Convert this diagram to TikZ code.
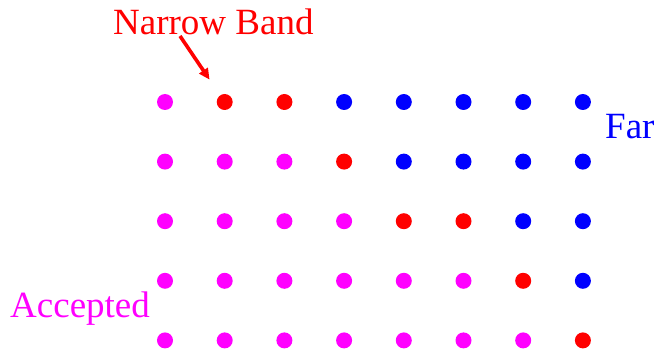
\documentclass[tikz,border=0pt]{standalone}
\usepackage{fontspec}
\setmainfont{Liberation Serif}
\usetikzlibrary{arrows.meta}
\definecolor{mag}{RGB}{255,0,255}
\definecolor{rd}{RGB}{255,0,0}
\definecolor{bl}{RGB}{0,0,255}
\tikzset{
  dotM/.style={circle,fill=mag,inner sep=0pt,minimum size=16pt},
  dotR/.style={circle,fill=rd,inner sep=0pt,minimum size=16pt},
  dotB/.style={circle,fill=bl,inner sep=0pt,minimum size=16pt},
  lbl/.style={inner sep=0pt,anchor=base west,font=\fontsize{37}{40}\selectfont}
}
\begin{document}
\begin{tikzpicture}[x=1pt,y=-1pt]
\useasboundingbox (0,0) rectangle (657,350);
\foreach \row [count=\j] in {{M,R,R,B,B,B,B,B},{M,M,M,R,B,B,B,B},{M,M,M,M,R,R,B,B},{M,M,M,M,M,M,R,B},{M,M,M,M,M,M,M,R}}{
  \foreach \c [count=\i] in \row {
    \node[dot\c] (d\i-\j) at ({165+(\i-1)*59.7},{102+(\j-1)*59.6}) {};
  }
}
\node[lbl,text=rd] (nb) at (113,35) {Narrow Band};
\node[lbl,text=bl] (far) at (605,139) {Far};
\node[lbl,text=mag] (acc) at (10,317) {Accepted};
\coordinate (as) at (180,36);
\draw[rd,line width=3.6pt,shorten >=27pt,-{Triangle[length=11pt,width=10pt]}] (as) -- (d2-1.center);
\end{tikzpicture}
\end{document}
